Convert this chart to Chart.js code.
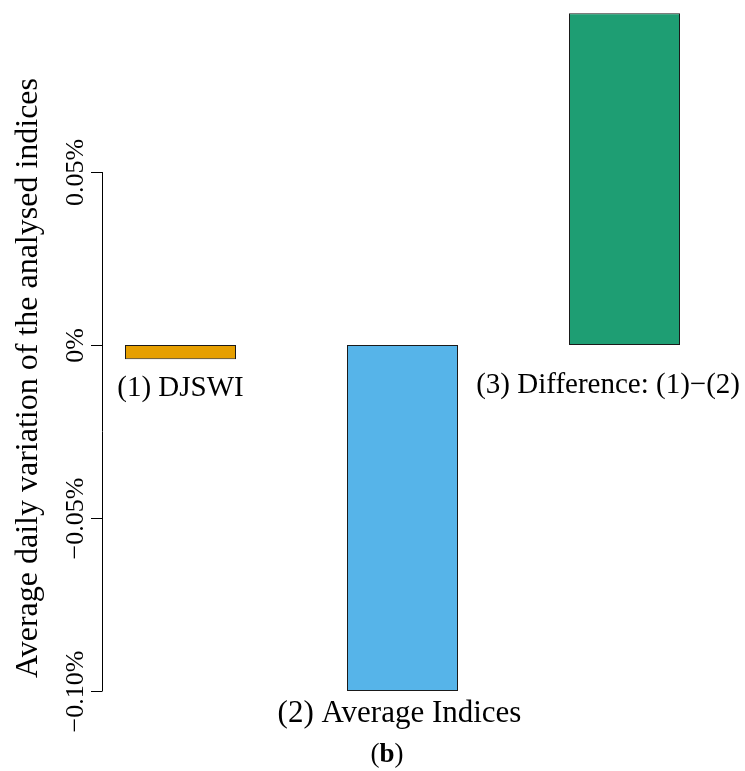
<!DOCTYPE html>
<html>
<head>
<meta charset="utf-8">
<script src="https://cdn.jsdelivr.net/npm/chart.js@4"></script>
<style>
  html, body { margin: 0; padding: 0; background: #fff; }
  canvas { display: block; }
</style>
</head>
<body>
<canvas id="indexChart" width="745" height="771"></canvas>
<script>
// data (average daily variation, in %)
const categories = ['(1) DJSWI', '(2) Average Indices', '(3) Difference: (1)\u2212(2)'];
const values = [-0.0041, -0.1000, 0.0959];
const barColors = ['#E69F00', '#56B4E9', '#1E9E73'];
const yTickValues = [-0.10, -0.05, 0, 0.05];
const yTickLabels = ['\u22120.10%', '\u22120.05%', '0%', '0.05%'];
const yTitle = 'Average daily variation of the analysed indices';

const serif = '"Liberation Serif", "DejaVu Serif", serif';

// R style axis + bar labels + caption
const decorations = {
    id: 'decorations',
    afterDraw(chart) {
        const ctx = chart.ctx;
        const y = chart.scales.y;
        const area = chart.chartArea;
        const axisX = area.left + 32.5;

        ctx.save();
        ctx.strokeStyle = '#000';
        ctx.fillStyle = '#000';
        ctx.lineWidth = 1;

        // axis line only over tick range
        const yTop = y.getPixelForValue(Math.max(...yTickValues));
        const yBot = y.getPixelForValue(Math.min(...yTickValues));
        ctx.beginPath();
        ctx.moveTo(axisX + 0.5, yTop);
        ctx.lineTo(axisX + 0.5, yBot);
        ctx.stroke();

        ctx.font = '26px ' + serif;
        ctx.textAlign = 'center';
        ctx.textBaseline = 'alphabetic';
        yTickValues.forEach((v, i) => {
            const py = Math.round(y.getPixelForValue(v)) + 0.5;
            ctx.beginPath();
            ctx.moveTo(axisX - 11, py);
            ctx.lineTo(axisX + 0.5, py);
            ctx.stroke();
            ctx.save();
            ctx.translate(axisX - 19, py);
            ctx.rotate(-Math.PI / 2);
            ctx.fillText(yTickLabels[i], 0, 0);
            ctx.restore();
        });

        // axis title
        ctx.save();
        ctx.font = '32px ' + serif;
        ctx.translate(37, 378);
        ctx.rotate(-Math.PI / 2);
        ctx.fillText(yTitle, 0, 0);
        ctx.restore();

        // bar labels under each bar
        const meta = chart.getDatasetMeta(0);
        const gaps = [37, 31, 48];
        const sizes = [29, 31, 29];
        meta.data.forEach((bar, i) => {
            ctx.font = sizes[i] + 'px ' + serif;
            const bottom = Math.max(bar.y, bar.base);
            const w = ctx.measureText(categories[i]).width;
            let cx = bar.x - (i === 1 ? 3 : 0);
            if (cx + w / 2 > chart.width - 5) cx = chart.width - 5 - w / 2;
            ctx.fillText(categories[i], cx, bottom + gaps[i]);
        });

        // caption (b)
        ctx.font = '27px ' + serif;
        const pOpen = ctx.measureText('(').width;
        ctx.font = 'bold 27px ' + serif;
        const bW = ctx.measureText('b').width;
        const capX = 387 - (pOpen * 2 + bW) / 2;
        ctx.textAlign = 'left';
        ctx.font = '27px ' + serif;
        ctx.fillText('(', capX, 762);
        ctx.font = 'bold 27px ' + serif;
        ctx.fillText('b', capX + pOpen, 762);
        ctx.font = '27px ' + serif;
        ctx.fillText(')', capX + pOpen + bW, 762);
        ctx.restore();
    }
};

new Chart(document.getElementById('indexChart'), {
    type: 'bar',
    data: {
        labels: categories,
        datasets: [{
            data: values,
            backgroundColor: barColors,
            borderColor: '#1a1a1a',
            borderWidth: 1,
            borderSkipped: false,
            barPercentage: 0.5,
            categoryPercentage: 1.0
        }]
    },
    options: {
        responsive: false,
        animation: false,
        layout: {
            padding: { left: 69.5, right: 9.5, top: 6, bottom: 80 }
        },
        plugins: {
            legend: { display: false },
            tooltip: { enabled: false }
        },
        scales: {
            x: { display: false, offset: true },
            y: { display: false, min: -0.10, max: 0.098 }
        }
    },
    plugins: [decorations]
});
</script>
</body>
</html>
